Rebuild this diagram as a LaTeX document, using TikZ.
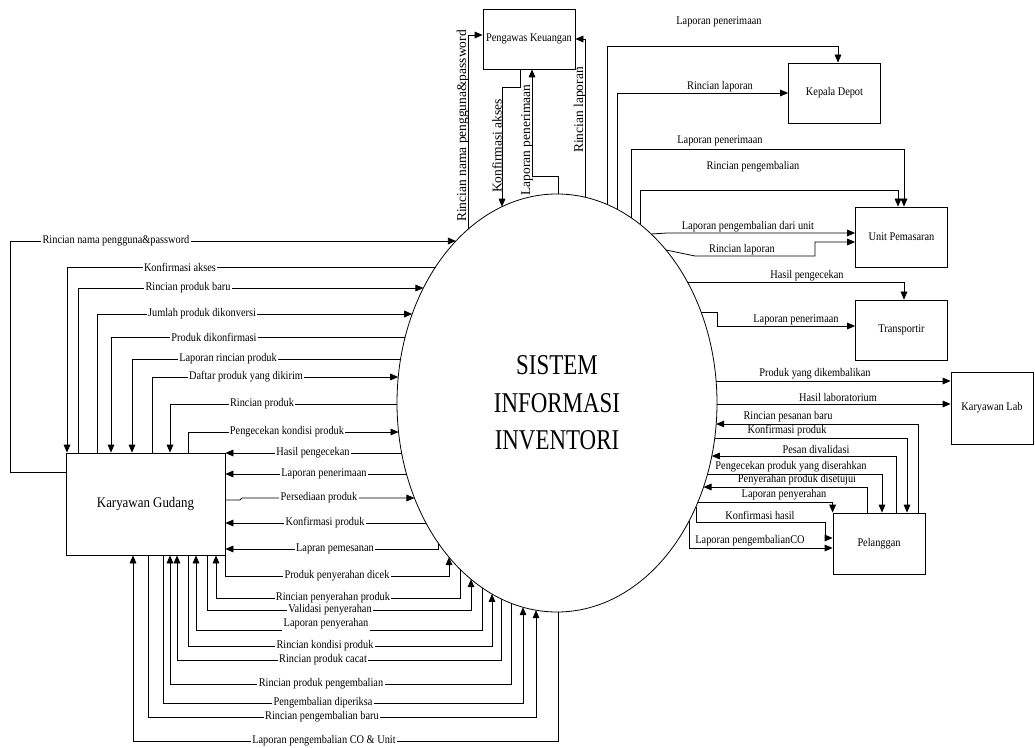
\documentclass[tikz,border=0pt]{standalone}
\usepackage{fontspec}
\setmainfont{Liberation Serif}
\newfontfamily\bigfont[FakeStretch=0.8]{Liberation Serif}
\newfontfamily\labfont[FakeStretch=0.88]{Liberation Serif}
\usetikzlibrary{arrows.meta,shapes.geometric}
\newcommand\ellL[1]{557-160*sqrt(1-((#1-403)/209)*((#1-403)/209))}
\newcommand\ellR[1]{557+160*sqrt(1-((#1-403)/209)*((#1-403)/209))}
\newcommand\ellT[1]{403-209*sqrt(1-((#1-557)/160)*((#1-557)/160))}
\newcommand\ellB[1]{403+209*sqrt(1-((#1-557)/160)*((#1-557)/160))}
\begin{document}
\begin{tikzpicture}[x=0.75pt,y=-0.75pt,
  ent/.style={draw,fill=white,line width=.6pt,inner sep=1pt,minimum width=69pt,minimum height=45pt,font=\labfont\fontsize{8.8}{10}\selectfont},
  fl/.style={line width=.6pt,-{Triangle[length=6pt,width=5pt]}},
  lab/.style={fill=white,inner sep=1pt,font=\labfont\fontsize{8.8}{10}\selectfont},
  labt/.style={inner sep=0pt,font=\labfont\fontsize{8.8}{10}\selectfont},
  vlab/.style={rotate=90,inner sep=0pt,font=\fontsize{10.1}{12}\selectfont}]
\useasboundingbox (0,0) rectangle (1035,748);
\node[draw,ellipse,line width=.6pt,inner sep=0pt,minimum width=240pt,minimum height=313.5pt,align=center,font=\bigfont\fontsize{21.5}{28}\selectfont] (sis) at (557,403) {SISTEM\\INFORMASI\\INVENTORI};
\node[ent,minimum width=119.25pt,minimum height=76.5pt,font=\labfont\fontsize{11}{12}\selectfont] (kg) at (145.5,504) {Karyawan Gudang};
\node[ent] (pk) at (529,39) {Pengawas Keuangan};
\node[ent] (kd) at (834.5,93) {Kepala Depot};
\node[ent] (up) at (901.5,237) {Unit Pemasaran};
\node[ent] (tr) at (901.5,330) {Transportir};
\node[ent,minimum width=61.5pt,minimum height=54pt] (kl) at (992,408) {Karyawan Lab};
\node[ent,minimum height=45.75pt] (pl) at (879,543.5) {Pelanggan};

\draw[fl] (kg.west |- 0,472) -| (10,241) -- ({\ellL{241}},241);
\draw[fl] ({\ellL{267}},267) -| (67,0 |- kg.north);
\draw[fl] (78,0 |- kg.north) |- ({\ellL{288}},288);
\draw[fl] (97,0 |- kg.north) |- ({\ellL{314}},314);
\draw[fl] ({\ellL{337}},337) -| (111,0 |- kg.north);
\draw[fl] ({\ellL{359}},359) -| (132,0 |- kg.north);
\draw[fl] (152,0 |- kg.north) |- ({\ellL{377}},377);
\draw[fl] ({\ellL{404}},404) -| (170,0 |- kg.north);
\draw[fl] (188,0 |- kg.north) |- ({\ellL{432}},432);
\draw[fl] ({\ellL{453}},453) -- (kg.east |- 0,453);
\draw[fl] ({\ellL{474}},474) -- (kg.east |- 0,474);
\draw[fl] (kg.east |- 0,500) -- (240,500) -- (242,498) -- ({\ellL{498}},498);
\draw[fl] ({\ellL{523}},523) -- (kg.east |- 0,523);
\draw[fl] (438,{\ellB{438}}) |- (kg.east |- 0,549);
\draw[fl] (kg.south east) |- (449,576) -- (449,{\ellB{449}});
\draw[fl] (460,{\ellB{460}}) -- (460,598) -| (216,0 |- kg.south);
\draw[fl] (207,0 |- kg.south) |- (471,610) -- (471,{\ellB{471}});
\draw[fl] (482,{\ellB{482}}) -- (482,630) -| (196,0 |- kg.south);
\draw[fl] (188,0 |- kg.south) |- (492,646) -- (492,{\ellB{492}});
\draw[fl] (501,{\ellB{501}}) -- (501,660) -| (177,0 |- kg.south);
\draw[fl] (511,{\ellB{511}}) -- (511,684) -| (170,0 |- kg.south);
\draw[fl] (163,0 |- kg.south) |- (523,703) -- (523,{\ellB{523}});
\draw[fl] (148,0 |- kg.south) |- (536,717) -- (536,{\ellB{536}});
\draw[fl] (558,{\ellB{558}}) -- (558,741) -| (133,0 |- kg.south);

\draw[fl] (468,{\ellT{468}}) |- (pk.west |- 0,35);
\draw[fl] (520,0 |- pk.south) -- (520,87) -| (502,{\ellT{502}});
\draw[fl] (558,{\ellT{558}}) -- (558,176) -| (532,0 |- pk.south);
\draw[fl] (585,{\ellT{585}}) |- (pk.east);

\draw[fl] (607,{\ellT{607}}) |- (838,46) -- (838,0 |- kd.north);
\draw[fl] (617,{\ellT{617}}) |- (kd.west);
\draw[fl] (631,{\ellT{631}}) |- (904,149) -- (904,0 |- up.north);
\draw[fl] (640,{\ellT{640}}) |- (898,190) -- (898,0 |- up.north);
\draw[fl] ({\ellR{234}},234) -- (667,233) -- (up.west |- 0,233);
\draw[fl] ({\ellR{250}},250) -- (695,256) -| (815,242) -- (up.west |- 0,242);
\draw[fl] ({\ellR{282}},282) -| (904,0 |- tr.north);
\draw[fl] ({\ellR{312}},312) -- (717,312) |- (tr.west |- 0,326);
\draw[fl] ({\ellR{381}},381) -- (kl.west |- 0,381);
\draw[fl] ({\ellR{404}},404) -- (kl.west |- 0,404);

\draw[fl] (918,0 |- pl.north) |- ({\ellR{424}},424);
\draw[fl] ({\ellR{438}},438) -| (907,0 |- pl.north);
\draw[fl] (896,0 |- pl.north) |- ({\ellR{456}},456);
\draw[fl] ({\ellR{474}},474) -| (882,0 |- pl.north);
\draw[fl] (867,0 |- pl.north) |- ({\ellR{487}},487);
\draw[fl] ({\ellR{502}},502) -| (pl.north west);
\draw[fl] (696,{\ellB{696}}) |- (825,522) |- (pl.west |- 0,538);
\draw[fl] (689,{\ellB{689}}) |- (pl.west |- 0,548);

\node[lab] (l1) at (116,241) {Rincian nama pengguna\&password};
\node[lab] (l2) at (180,267) {Konfirmasi akses};
\node[lab] (l3) at (188,288) {Rincian produk baru};
\node[lab] (l4) at (202,314) {Jumlah produk dikonversi};
\node[lab] (l5) at (214,337) {Produk dikonfirmasi};
\node[lab] (l6) at (228,359) {Laporan rincian produk};
\node[lab] (l7) at (246,377) {Daftar produk yang dikirim};
\node[lab] (l8) at (262,404) {Rincian produk};
\node[lab] (l9) at (287,432) {Pengecekan kondisi produk};
\node[lab] (l10) at (313,453) {Hasil pengecekan};
\node[lab] (l11) at (324,474) {Laporan penerimaan};
\node[lab] (l12) at (319,498) {Persediaan produk};
\node[lab] (l13) at (325,523) {Konfirmasi produk};
\node[lab] (l14) at (335,549) {Lapran pemesanan};
\node[lab] (l15) at (337,576) {Produk penyerahan dicek};
\node[lab] (l16) at (333,598) {Rincian penyerahan produk};
\node[lab] (l17) at (330,610) {Validasi penyerahan};
\node[lab] (l18) at (326,624) {Laporan penyerahan};
\node[lab] (l19) at (325,646) {Rincian kondisi produk};
\node[lab] (l20) at (323,660) {Rincian produk cacat};
\node[lab] (l21) at (321,684) {Rincian produk pengembalian};
\node[lab] (l22) at (323,703) {Pengembalian diperiksa};
\node[lab] (l23) at (322,717) {Rincian pengembalian baru};
\node[lab] (l24) at (324,741) {Laporan pengembalian CO \& Unit};

\node[vlab] (v1) at (463,126) {Rincian nama pengguna\&password};
\node[vlab] (v2) at (497,146) {Konfirmasi akses};
\node[vlab] (v3) at (527,140) {Laporan penerimaan};
\node[vlab] (v4) at (580,110) {Rincian laporan};

\node[labt] (r1) at (719,22) {Laporan penerimaan};
\node[labt] (r2) at (720,87) {Rincian laporan};
\node[labt] (r3) at (720,141) {Laporan penerimaan};
\node[labt] (r4) at (753,167) {Rincian pengembalian};
\node[labt] (r5) at (748,227) {Laporan pengembalian dari unit};
\node[labt] (r6) at (742,250) {Rincian laporan};
\node[labt] (r7) at (807,276) {Hasil pengecekan};
\node[labt] (r8) at (796,320) {Laporan penerimaan};
\node[labt] (r9) at (815,374) {Produk yang dikembalikan};
\node[labt] (r10) at (838,397) {Hasil laboratorium};
\node[labt] (r11) at (788,417) {Rincian pesanan baru};
\node[labt] (r12) at (787,431) {Konfirmasi produk};
\node[labt] (r13) at (816,449) {Pesan divalidasi};
\node[labt] (r14) at (791,467) {Pengecekan produk yang diserahkan};
\node[labt] (r15) at (797,480) {Penyerahan produk disetujui};
\node[labt] (r16) at (784,495) {Laporan penyerahan};
\node[labt] (r17) at (760,515) {Konfirmasi hasil};
\node[labt] (r18) at (750,541) {Laporan pengembalianCO};
\end{tikzpicture}
\end{document}
